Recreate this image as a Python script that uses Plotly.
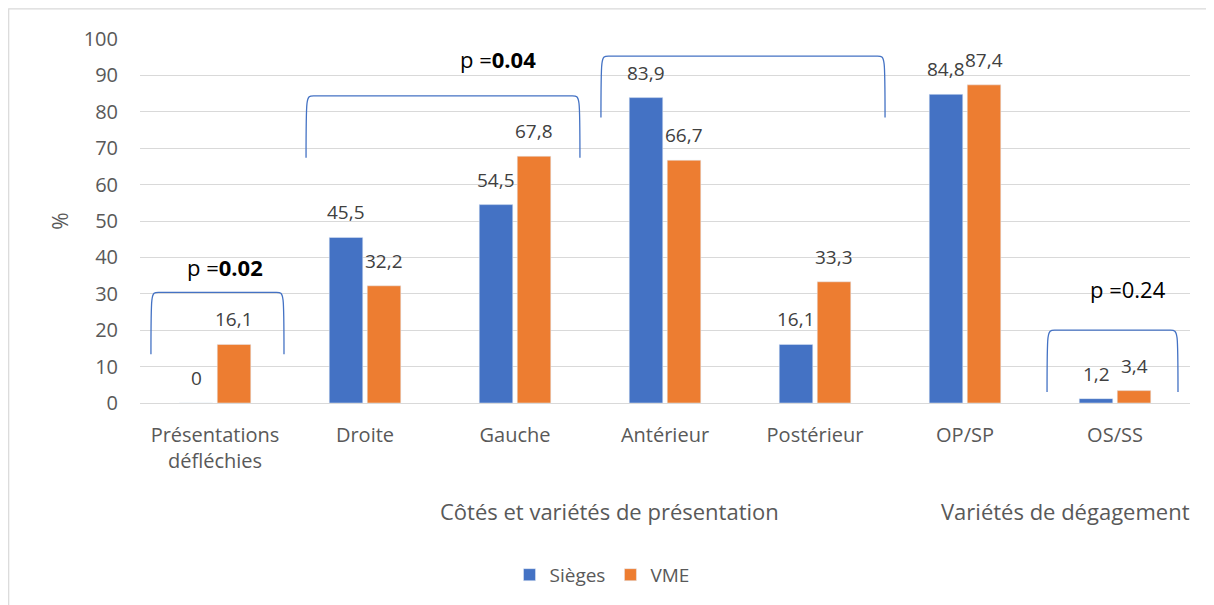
import plotly.graph_objects as go

FONT = "Open Sans, sans-serif"
BLUE = "#4472C4"
ORANGE = "#ED7D31"
GRID = "#D9D9D9"

categories = ["Présentations<br>défléchies", "Droite", "Gauche", "Antérieur",
              "Postérieur", "OP/SP", "OS/SS"]
sieges = [0, 45.5, 54.5, 83.9, 16.1, 84.8, 1.2]
vme = [16.1, 32.2, 67.8, 66.7, 33.3, 87.4, 3.4]
series_names = ["Sièges", "VME"]

p_labels = ["p =<b>0.02</b>", "p =<b>0.04</b>", "p =<b>0.002</b>", "p =0.24"]
group_labels = ["Côtés et variétés de présentation", "Variétés de dégagement"]

# bracket geometry (category units / y values): x0, x1, top, bottom, text x, text y
brackets = [
    (-0.427, 0.46, 30.4, 13.4, 0.067, 37.3),
    (0.607, 2.433, 84.4, 67.4, 1.887, 94.5),
    (2.573, 4.467, 95.3, 78.4, 3.753, 100.6),
    (5.547, 6.42, 20.0, 3.0, 6.087, 31.2),
]
group_pos = [2.63, 5.67]

x = list(range(len(categories)))
fmt = lambda v: f"{v:g}".replace(".", ",")

fig = go.Figure()
for name, vals, col in [(series_names[0], sieges, BLUE), (series_names[1], vme, ORANGE)]:
    fig.add_trace(go.Bar(name=name, x=x, y=vals, marker_color=col))

# data labels above the bars
off = 0.1267
for vals, d in [(sieges, -off), (vme, off)]:
    for i, v in enumerate(vals):
        fig.add_annotation(x=i + d, y=v, text=fmt(v), showarrow=False, yanchor="bottom",
                           yshift=10, font=dict(family=FONT, size=19, color="#404040"))

shapes = []
for x0, x1, top, bot, tx, ty in brackets:
    dx = 0.05
    path = (f"M {x0},{bot} C {x0},{top} {x0},{top} {x0 + dx},{top} "
            f"L {x1 - dx},{top} C {x1},{top} {x1},{top} {x1},{bot}")
    shapes.append(dict(type="path", path=path, xref="x", yref="y",
                       line=dict(color=BLUE, width=1.3)))
for (x0, x1, top, bot, tx, ty), lab in zip(brackets, p_labels):
    fig.add_annotation(x=tx, y=ty, text=lab, showarrow=False,
                       font=dict(family=FONT, size=22, color="#000000"))

for gx, lab in zip(group_pos, group_labels):
    fig.add_annotation(x=gx, y=-0.344, yref="paper", text=lab, showarrow=False,
                       font=dict(family=FONT, size=22, color="#595959"))

# outer chart frame
shapes.append(dict(type="rect", xref="paper", yref="paper",
                   x0=(0.7 - 132) / 1050, x1=(1205 - 132) / 1050,
                   y0=-0.7, y1=1 + 30.3 / 365, line=dict(color=GRID, width=1.2)))

fig.update_layout(
    width=1206, height=597,
    margin=dict(l=132, r=24, t=31, b=201),
    plot_bgcolor="white", paper_bgcolor="white",
    font=dict(family=FONT, color="#595959"),
    barmode="group", bargap=0.493, bargroupgap=0.118,
    shapes=shapes,
    legend=dict(orientation="h", x=0.44, xanchor="center", y=-0.468, yanchor="middle",
                font=dict(family=FONT, size=19, color="#595959"), traceorder="normal"),
    showlegend=True,
)
fig.update_xaxes(range=[-0.5, 6.5], tickvals=x, ticktext=categories, showgrid=False,
                 showline=True, linecolor=GRID, linewidth=1.3, zeroline=False,
                 ticks="", ticklabelstandoff=14, tickfont=dict(size=20, color="#595959"))
fig.update_yaxes(range=[0, 100], dtick=10, showgrid=True, gridcolor=GRID, gridwidth=1.3,
                 zeroline=False, ticks="", ticklabelstandoff=21,
                 tickfont=dict(size=20, color="#595959"),
                 title=dict(text="%", standoff=9, font=dict(size=21, color="#595959")))

fig.write_html("out.html")
